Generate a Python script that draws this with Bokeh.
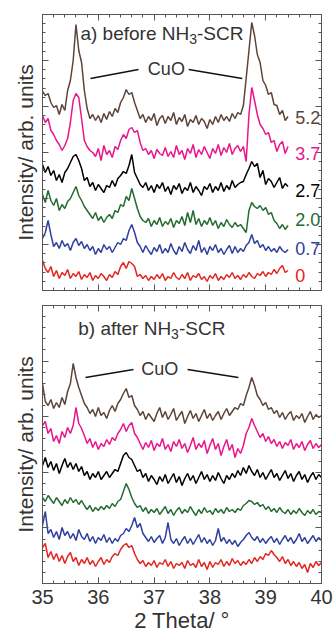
from bokeh.plotting import figure
from bokeh.layouts import column
from bokeh.models import Range1d, LinearAxis, FixedTicker, Label, Title
from bokeh.embed import file_html
from bokeh.resources import INLINE
import numpy as np

# ---------------- data (intensity, arb. units, already stacked) ----------------
X_START = 35.0
X_STEP = 0.05

samples = ["5.2", "3.7", "2.7", "2.0", "0.7", "0"]
colors = ["#5c4438", "#e8168a", "#000000", "#236b30", "#2f3f9e", "#e3241f"]

# a) before NH3-SCR  (35.00 ... 39.40)
top_52 = [199,195,197,188,183,185,176,186,180,200,
          210,230,266,240,228,200,182,172,176,170,
          175,168,177,171,179,174,182,178,188,193,
          201,196,198,188,180,172,176,168,174,170,
          177,165,172,175,167,174,170,178,166,173,
          169,176,164,171,168,175,166,172,169,162,
          171,166,174,168,176,170,174,169,177,172,
          178,176,185,212,240,268,255,236,228,210,
          205,196,198,186,185,176,180,170,174]
top_37 = [175,168,172,160,156,150,146,140,145,152,
          168,190,197,193,172,150,144,140,138,134,
          142,130,145,136,140,133,144,141,150,156,
          152,161,163,158,160,148,140,142,136,140,
          132,141,137,135,143,134,139,133,145,136,
          140,131,142,137,146,133,141,136,144,138,
          132,142,137,146,135,143,138,147,136,142,
          145,139,144,129,176,203,190,176,166,162,
          156,158,148,150,139,146,149,137,144]
top_27 = [126,118,124,115,120,110,116,108,118,122,
          128,134,136,130,122,110,113,104,108,100,
          106,102,98,105,103,110,104,112,115,119,
          117,125,136,118,112,106,103,108,100,105,
          98,106,102,108,99,104,96,105,101,107,
          97,103,100,108,98,104,100,95,104,101,
          107,98,104,100,108,99,105,101,110,103,
          106,108,109,116,122,129,124,127,113,120,
          106,112,109,103,108,113,102,107,104]
top_20 = [96,88,100,90,85,92,80,86,82,89,
          92,98,104,95,90,84,80,76,72,78,
          70,74,68,73,76,72,80,78,86,84,
          94,90,102,92,82,74,70,68,72,64,
          70,66,73,64,69,66,72,63,70,67,
          74,65,78,68,80,66,72,64,70,66,
          73,65,70,62,68,64,71,66,63,68,
          64,66,62,58,80,88,84,82,85,80,
          83,76,78,70,67,62,66,61,65]
top_07 = [52,58,70,56,44,48,42,50,44,47,
          40,48,52,45,49,42,46,40,44,36,
          42,38,46,41,44,38,43,48,46,52,
          50,60,66,58,48,44,38,45,40,36,
          43,39,46,37,42,38,47,40,36,44,
          39,48,41,37,45,40,50,38,43,36,
          44,40,46,38,42,36,41,45,37,44,
          38,42,39,45,48,56,47,50,43,46,
          40,44,39,42,38,44,40,38,41]
top_00 = [30,22,18,24,14,20,12,18,15,21,
          12,17,14,19,11,16,13,18,10,15,
          12,17,14,10,16,13,19,16,24,28,
          22,29,27,24,14,16,12,15,10,14,
          11,16,12,17,10,14,12,18,13,11,
          16,12,18,10,15,13,17,11,14,9,
          15,12,17,10,14,11,16,13,18,12,
          15,11,16,13,18,14,12,17,15,19,
          14,18,16,21,17,22,25,18,20]

# b) after NH3-SCR  (35.00 ... 40.00)
bot_52 = [200,182,178,184,175,181,176,186,179,192,
          200,220,206,196,188,180,176,170,174,167,
          176,168,171,165,173,178,172,180,184,190,
          195,186,188,178,174,168,172,164,170,166,
          162,170,176,166,172,164,169,175,163,168,
          172,160,167,173,165,170,162,168,174,165,
          170,163,168,172,164,170,175,168,172,176,
          174,180,178,188,196,206,198,188,184,178,
          181,174,176,170,173,166,171,164,169,172,
          163,168,165,170,161,167,172,164,169,166,168]
bot_37 = [158,162,150,155,142,148,140,152,146,156,
          150,158,176,160,155,148,140,145,136,142,
          134,140,137,144,139,146,143,150,154,160,
          152,158,161,150,146,140,134,141,136,143,
          133,140,137,145,134,139,132,142,137,144,
          135,140,131,138,146,134,140,136,143,130,
          138,145,134,140,128,137,144,133,139,126,
          135,130,138,150,156,165,158,152,146,150,
          142,147,140,144,137,142,135,141,138,144,
          134,140,136,142,133,139,143,135,140,136,139]
bot_27 = [118,126,116,122,113,120,110,118,125,116,
          121,114,120,112,117,108,112,104,110,106,
          112,104,108,112,106,110,114,112,120,128,
          131,126,124,118,112,114,106,110,102,108,
          104,99,107,102,109,100,105,110,101,107,
          98,105,110,103,108,100,106,112,104,109,
          102,108,103,111,105,100,108,104,110,106,
          113,108,116,110,118,112,108,114,106,111,
          104,109,114,106,110,103,108,113,105,110,
          102,108,112,104,109,101,107,111,104,109,106]
bot_20 = [86,82,88,84,80,86,82,78,84,80,
          86,81,84,79,83,78,74,78,72,76,
          73,77,74,78,75,80,77,82,84,92,
          100,94,86,80,76,78,72,76,70,74,
          71,75,69,73,77,70,74,68,73,76,
          70,74,71,77,72,68,74,70,76,71,
          73,69,75,71,74,70,76,72,74,71,
          75,73,78,80,83,82,79,81,77,79,
          74,77,72,75,71,76,72,70,74,69,
          73,70,75,71,68,73,70,74,69,72,71]
bot_07 = [58,72,50,54,46,52,44,56,48,52,
          45,50,43,54,47,44,50,42,47,40,
          46,43,49,41,46,40,45,42,48,50,
          55,52,58,66,56,60,50,46,42,47,
          41,45,48,40,46,61,44,40,45,38,
          43,47,40,45,39,44,49,41,46,40,
          44,38,43,55,42,46,40,44,39,43,
          37,41,44,48,51,46,43,47,41,45,
          40,44,47,41,45,39,44,48,42,46,
          40,44,50,42,46,40,44,48,42,46,43]
bot_00 = [36,40,26,32,24,30,22,28,20,27,
          31,22,26,18,24,20,26,19,23,17,
          22,26,19,24,21,27,30,28,34,38,
          40,36,38,30,24,20,23,17,21,18,
          23,16,21,19,24,17,22,15,20,18,
          21,15,23,18,20,16,24,17,21,14,
          22,16,21,19,24,17,22,18,25,20,
          23,18,22,19,24,20,26,22,27,24,
          30,28,33,29,26,22,27,20,24,18,
          22,17,21,15,19,11,20,16,22,18,21]

top_series = [top_52, top_37, top_27, top_20, top_07, top_00]
bot_series = [bot_52, bot_37, bot_27, bot_20, bot_07, bot_00]
label_levels = [173, 137, 100, 71, 42, 15]

x_ticks = [35, 36, 37, 38, 39, 40]

FONT = "Liberation Sans"
AX = "#555555"
TXT = "#333333"
YLABEL = "Intensity/ arb. units"


def xgrid(vals):
    return np.round(X_START + X_STEP * np.arange(len(vals)), 3)


def style(ax, labels=False):
    ax.axis_line_color = AX
    ax.major_tick_line_color = AX
    ax.minor_tick_line_color = AX
    ax.major_tick_in = 6
    ax.major_tick_out = 0
    ax.minor_tick_in = 3
    ax.minor_tick_out = 0
    if labels:
        ax.major_label_text_font = FONT
        ax.major_label_text_font_size = "20px"
        ax.major_label_text_color = TXT
    else:
        ax.major_label_text_color = None
        ax.major_label_standoff = 0


def make_panel(height, ymax, ystep, top_b, bot_b, with_xlabels, ylab_offset):
    p = figure(width=333, height=height, x_range=Range1d(35, 40),
               y_range=Range1d(0, ymax), x_axis_type=None, y_axis_type=None,
               min_border_left=42, min_border_right=12,
               min_border_top=top_b, min_border_bottom=bot_b,
               output_backend="svg", toolbar_location=None)
    p.outline_line_color = AX
    p.background_fill_color = "white"
    p.border_fill_color = "white"
    xt = FixedTicker(ticks=x_ticks,
                     minor_ticks=[round(35 + 0.2 * i, 2) for i in range(26)])
    yt = FixedTicker(ticks=[ystep * k for k in range(1, 6)],
                     minor_ticks=[ystep / 5 * k for k in range(0, 31)])
    for loc in ["below", "above"]:
        ax = LinearAxis(ticker=xt)
        style(ax, labels=(with_xlabels and loc == "below"))
        p.add_layout(ax, loc)
    for loc in ["left", "right"]:
        ax = LinearAxis(ticker=yt)
        style(ax)
        p.add_layout(ax, loc)
    p.add_layout(Title(text=YLABEL, align="center", offset=ylab_offset,
                       text_font=FONT, text_font_size="21px",
                       text_font_style="normal", text_color=TXT,
                       standoff=11), "left")
    if with_xlabels:
        b = p.below[0]
        b.major_label_standoff = 6
        b.axis_label = "2 Theta/ °"
        b.axis_label_text_font = FONT
        b.axis_label_text_font_size = "22px"
        b.axis_label_text_font_style = "normal"
        b.axis_label_text_color = TXT
        b.axis_label_standoff = 1
    return p


def add_text(p, x, y, text, size, color=TXT, dx=0, dy=0, align="left"):
    p.add_layout(Label(x=x, y=y, text=text, x_offset=dx, y_offset=dy,
                       text_font=FONT, text_font_size=size, text_color=color,
                       text_align=align, text_baseline="middle"))


# ---------------- top panel ----------------
top = make_panel(298, 276, 46, 14, 8, False, 12)
for vals, c in zip(top_series, colors):
    top.line(xgrid(vals), vals, line_color=c, line_width=1.5)
for s, c, lv in zip(samples, colors, label_levels):
    add_text(top, 39.53, lv, s, "18px", color=c)
# title with subscript
add_text(top, 35.68, 257, "a) before NH", "19px")
add_text(top, 35.68, 257, "3", "14px", dx=108.7, dy=-5)
add_text(top, 35.68, 257, "-SCR", "19px", dx=116.5)
add_text(top, 37.22, 222, "CuO", "18px", align="center")
top.segment(x0=[35.86, 37.62], y0=[212, 221], x1=[36.72, 38.58], y1=[221, 212],
            line_color="#111111", line_width=1.3)

# ---------------- bottom panel ----------------
bot = make_panel(343, 278, 55.6, 7, 58, True, 18)
for vals, c in zip(bot_series, colors):
    bot.line(xgrid(vals), vals, line_color=c, line_width=1.5)
add_text(bot, 35.64, 255, "b) after NH", "19px")
add_text(bot, 35.64, 255, "3", "14px", dx=92.9, dy=-5)
add_text(bot, 35.64, 255, "-SCR", "19px", dx=100.7)
add_text(bot, 37.10, 215, "CuO", "18px", align="center")
bot.segment(x0=[35.77, 37.60], y0=[206, 214], x1=[36.63, 38.51], y1=[214, 206],
            line_color="#111111", line_width=1.3)

layout = column(top, bot, spacing=0)
open("out.html", "w").write(file_html(layout, INLINE))
